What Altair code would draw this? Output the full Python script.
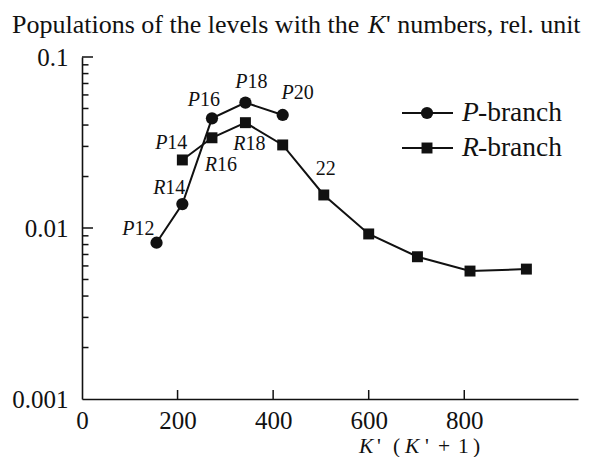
import altair as alt
import pandas as pd

# ---- data ----
p_x = [156, 210, 272, 342, 420]
p_y = [0.0082, 0.0138, 0.0438, 0.0541, 0.0458]
r_x = [210, 272, 342, 420, 506, 600, 702, 812, 930]
r_y = [0.0250, 0.0337, 0.0413, 0.0306, 0.0156, 0.00923, 0.00679, 0.0056, 0.00575]

x_ticks = [0, 200, 400, 600, 800]
y_ticks = [0.001, 0.01, 0.1]
y_minor = [m * d for d in (0.001, 0.01) for m in range(2, 10)]

# point labels: (series, index, italic letter, number)
point_labels = [
    ("P", 0, "P", "12"), ("P", 1, "R", "14"), ("P", 2, "P", "16"),
    ("P", 3, "P", "18"), ("P", 4, "P", "20"),
    ("R", 0, "P", "14"), ("R", 1, "R", "16"), ("R", 2, "R", "18"),
    ("R", 4, "", "22"),
]
# styling offsets (px) of each label from its point
label_offsets = [(-22, -8), (-17, -10), (-12, -12), (2, -15), (11, -16),
                 (-15, -11), (5, 33), (0, 27), (-8, -20)]

title_segments = [("Populations of the levels with the", "normal"), ("K", "italic"),
                  ("' numbers, rel. unit", "normal")]
xtitle_segments = [("K", "italic"), ("'", "normal"), ("(", "normal"), ("K", "italic"),
                   ("'", "normal"), ("+", "normal"), ("1", "normal"), (")", "normal")]
legend_items = [("P", "-branch", "circle"), ("R", "-branch", "square")]

FONT = "Liberation Serif"
INK = "#111111"
W, H = 496, 342
XDOM = [0, 1038]

p_df = pd.DataFrame({"x": p_x, "y": p_y})
r_df = pd.DataFrame({"x": r_x, "y": r_y})

xs = alt.Scale(domain=XDOM, nice=False)
ys = alt.Scale(type="log", domain=[0.001, 0.1], nice=False)

xax = alt.Axis(values=x_ticks, ticks=False, tickSize=0, grid=False, labelFont=FONT,
               labelFontSize=25, labelColor=INK, labelPadding=9, domainColor=INK,
               domainWidth=1.6, title=None, labelFlush=False)
yax = alt.Axis(values=y_ticks, ticks=False, tickSize=0, grid=False, labelFont=FONT,
               labelFontSize=25, labelColor=INK, labelPadding=14, domainColor=INK,
               domainWidth=1.6, title=None, format="~g")

X = lambda: alt.X("x:Q", scale=xs, axis=xax)
Y = lambda: alt.Y("y:Q", scale=ys, axis=yax)

layers = []
for df, shape, size in ((p_df, "circle", 150), (r_df, "square", 120)):
    layers.append(alt.Chart(df).mark_line(color=INK, strokeWidth=2).encode(x=X(), y=Y(), order="x:Q"))
    layers.append(alt.Chart(df).mark_point(shape=shape, filled=True, size=size, color=INK, opacity=1)
                  .encode(x=X(), y=Y()))

# inward ticks
maj_df = pd.DataFrame({"y": [0.01, 0.1]})
min_df = pd.DataFrame({"y": y_minor})
xt_df = pd.DataFrame({"x": x_ticks[1:]})
layers.append(alt.Chart(maj_df).mark_rule(color=INK, strokeWidth=1.5).encode(
    y=Y(), x=alt.value(0), x2=alt.value(11)))
layers.append(alt.Chart(min_df).mark_rule(color=INK, strokeWidth=1.5).encode(
    y=Y(), x=alt.value(0), x2=alt.value(6.5)))
layers.append(alt.Chart(xt_df).mark_rule(color=INK, strokeWidth=1.5).encode(
    x=X(), y=alt.value(H), y2=alt.value(H - 9)))

# point labels
series = {"P": (p_x, p_y), "R": (r_x, r_y)}
for (s, i, letter, num), (dx, dy) in zip(point_labels, label_offsets):
    d = pd.DataFrame({"x": [series[s][0][i]], "y": [series[s][1][i]]})
    if letter:
        layers.append(alt.Chart(d).mark_text(font=FONT, fontSize=20, fontStyle="italic", color=INK,
                                             align="right", baseline="alphabetic", dx=dx, dy=dy)
                      .encode(x=X(), y=Y(), text=alt.value(letter)))
    layers.append(alt.Chart(d).mark_text(font=FONT, fontSize=20, color=INK,
                                         align="left", baseline="alphabetic", dx=dx, dy=dy)
                  .encode(x=X(), y=Y(), text=alt.value(num)))

one = pd.DataFrame({"a": [0]})

def ptext(txt, px, py, size, style="normal", align="left"):
    return alt.Chart(one).mark_text(font=FONT, fontSize=size, fontStyle=style, color=INK,
                                    align=align, baseline="alphabetic").encode(
        x=alt.value(px), y=alt.value(py), text=alt.value(txt))

# title (positions relative to plot origin)
title_x = [-70, 286, 304]
for (t, st), px in zip(title_segments, title_x):
    layers.append(ptext(t, px, -24, 26, st))

# x title
xt_x = [277, 295, 311, 323, 343, 356, 376, 391]
for (t, st), px in zip(xtitle_segments, xt_x):
    layers.append(ptext(t, px, 396, 21.5, st))

# legend
leg_y = [56, 91]
for (letter, rest, shape), ly in zip(legend_items, leg_y):
    layers.append(alt.Chart(one).mark_rule(color=INK, strokeWidth=2).encode(
        x=alt.value(320), x2=alt.value(371), y=alt.value(ly)))
    layers.append(alt.Chart(one).mark_point(shape=shape, filled=True, opacity=1, color=INK,
                                            size=150 if shape == "circle" else 120).encode(
        x=alt.value(345), y=alt.value(ly)))
    layers.append(ptext(letter, 380, ly + 8, 27.5, "italic"))
    layers.append(ptext(rest, 396, ly + 8, 27.5))

chart = alt.layer(*layers).properties(
    width=W, height=H,
    autosize=alt.AutoSizeParams(type="none"),
    padding={"left": 74, "top": 49, "right": 5, "bottom": 58},
).configure_view(stroke=None)

chart.save("out.html", embed_options={"renderer": "svg", "actions": False})
